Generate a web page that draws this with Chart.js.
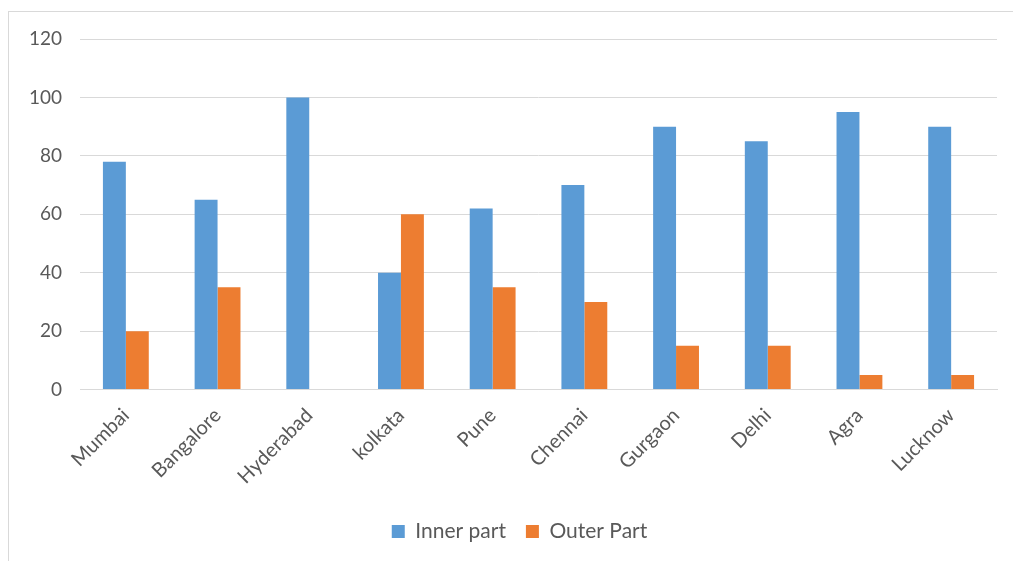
<!DOCTYPE html>
<html>
<head>
<meta charset="utf-8">
<script src="https://cdn.jsdelivr.net/npm/chart.js@4/dist/chart.umd.min.js"></script>
<style>
  html, body { margin: 0; padding: 0; background: #fff; overflow: hidden; }
  #frame { position: absolute; left: 8px; top: 11px; width: 1100px; height: 700px; border: 1px solid #d9d9d9; }
  #c { position: absolute; left: 0; top: 0; }
</style>
</head>
<body>
<div id="frame"></div>
<canvas id="c" width="1013" height="561"></canvas>
<script>
const cities = ['Mumbai', 'Bangalore', 'Hyderabad', 'kolkata', 'Pune', 'Chennai', 'Gurgaon', 'Delhi', 'Agra', 'Lucknow'];
const innerPart = [78, 65, 100, 40, 62, 70, 90, 85, 95, 90];
const outerPart = [20, 35, 0, 60, 35, 30, 15, 15, 5, 5];
const yTicks = [0, 20, 40, 60, 80, 100, 120];

const textColor = '#595959';
const gridColor = '#d9d9d9';
const fontFamily = 'Lato, "Open Sans", sans-serif';

// Nudge the legend so it is centred on the whole frame rather than the chart box.
const legendShift = {
  id: 'legendShift',
  afterLayout(chart) {
    const lg = chart.legend;
    if (lg) { lg.left += 21; lg.right += 21; }
  }
};

new Chart(document.getElementById('c'), {
  type: 'bar',
  data: {
    labels: cities,
    datasets: [
      { label: 'Inner part', data: innerPart, backgroundColor: '#5B9BD5' },
      { label: 'Outer Part', data: outerPart, backgroundColor: '#ED7D31' }
    ]
  },
  plugins: [legendShift],
  options: {
    responsive: false,
    animation: false,
    devicePixelRatio: 1,
    categoryPercentage: 0.5,
    barPercentage: 1.0,
    layout: { padding: { top: 39, right: 16, bottom: 9, left: 0 } },
    plugins: {
      tooltip: { enabled: false },
      legend: {
        position: 'bottom',
        labels: {
          boxWidth: 13,
          boxHeight: 13,
          padding: 20,
          color: textColor,
          font: { family: fontFamily, size: 21 }
        }
      }
    },
    scales: {
      x: {
        grid: { display: false, drawTicks: false },
        border: { display: true, color: gridColor, width: 1 },
        ticks: {
          color: textColor,
          font: { family: fontFamily, size: 20 },
          maxRotation: 45,
          minRotation: 45,
          padding: 14,
          autoSkip: false
        },
        afterFit: (s) => { s.height = 111.4; }
      },
      y: {
        min: 0,
        max: 120,
        afterBuildTicks: (s) => { s.ticks = yTicks.map(v => ({ value: v })); },
        grid: { color: gridColor, lineWidth: 1, drawTicks: false },
        border: { display: false },
        ticks: {
          color: textColor,
          font: { family: fontFamily, size: 19 },
          padding: 18
        },
        afterFit: (s) => { s.width = 80; }
      }
    }
  }
});
</script>
</body>
</html>
